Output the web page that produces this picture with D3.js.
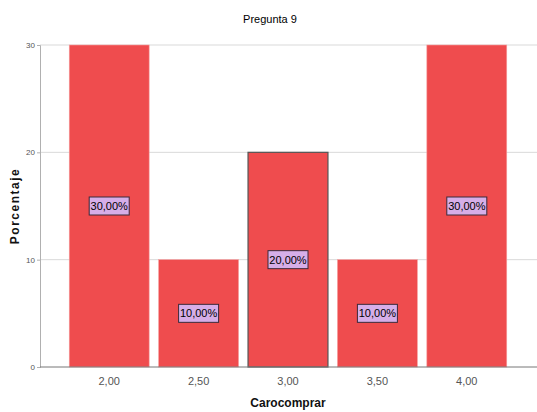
<!DOCTYPE html>
<html>
<head>
<meta charset="utf-8">
<script src="https://cdn.jsdelivr.net/npm/d3@7"></script>
<style>
  body { margin: 0; background: #fff; }
  svg { display: block; font-family: "Liberation Sans", Arial, sans-serif; }
</style>
</head>
<body>
<script>
// Data
const categories = ["2,00", "2,50", "3,00", "3,50", "4,00"];
const values = [30, 10, 20, 10, 30];
const labels = ["30,00%", "10,00%", "20,00%", "10,00%", "30,00%"];
const yTicks = [0, 10, 20, 30];

const width = 537;
const height = 412;
const margin = { top: 45, right: 1, bottom: 45, left: 40 };

const svg = d3.select("body")
    .append("svg")
    .attr("width", width)
    .attr("height", height);

const x = d3.scaleBand()
    .domain(categories)
    .range([margin.left, width - margin.right])
    .paddingInner(0.106)
    .paddingOuter(0.327);

const y = d3.scaleLinear()
    .domain([0, 30])
    .range([height - margin.bottom, margin.top]);

// Gridlines
svg.append("g")
    .selectAll("line")
    .data(yTicks.filter(d => d > 0))
    .enter()
    .append("line")
    .attr("x1", margin.left)
    .attr("x2", width)
    .attr("y1", d => y(d))
    .attr("y2", d => y(d))
    .attr("stroke", "#d9d9d9")
    .attr("stroke-width", 1);

// Bars
svg.append("g")
    .selectAll("rect")
    .data(values)
    .enter()
    .append("rect")
    .attr("x", (d, i) => x(categories[i]))
    .attr("y", d => y(d))
    .attr("width", x.bandwidth())
    .attr("height", d => y(0) - y(d))
    .attr("fill", "#ef4c4e")
    .attr("stroke", (d, i) => i === 2 ? "#555" : "#f5a0a0")
    .attr("stroke-width", (d, i) => i === 2 ? 1.2 : 0.6);

// Y axis
const yAxis = svg.append("g")
    .attr("transform", `translate(${margin.left},0)`)
    .call(d3.axisLeft(y).tickValues(yTicks).tickSize(3).tickPadding(2));
yAxis.select(".domain").attr("stroke", "#b0b0b0");
yAxis.selectAll(".tick line").attr("stroke", "#b0b0b0");
yAxis.selectAll(".tick text")
    .attr("fill", "#555")
    .style("font-size", "8px");

// X axis baseline
svg.append("line")
    .attr("x1", margin.left)
    .attr("x2", width)
    .attr("y1", y(0))
    .attr("y2", y(0))
    .attr("stroke", "#777")
    .attr("stroke-width", 1);

// X tick labels
svg.append("g")
    .selectAll("text")
    .data(categories)
    .enter()
    .append("text")
    .attr("x", d => x(d) + x.bandwidth() / 2)
    .attr("y", y(0) + 18)
    .attr("text-anchor", "middle")
    .attr("fill", "#555")
    .style("font-size", "11px")
    .text(d => d);

// Value labels
const lab = svg.append("g")
    .selectAll("g")
    .data(values)
    .enter()
    .append("g")
    .attr("transform", (d, i) => `translate(${x(categories[i]) + x.bandwidth() / 2},${(y(d) + y(0)) / 2})`);

lab.append("rect")
    .attr("x", -20)
    .attr("y", -9)
    .attr("width", 40)
    .attr("height", 18)
    .attr("fill", "#d6aee8")
    .attr("stroke", "#3a2a3a")
    .attr("stroke-width", 1);

lab.append("text")
    .attr("text-anchor", "middle")
    .attr("dy", "0.36em")
    .attr("fill", "#000")
    .style("font-size", "11px")
    .text((d, i) => labels[i]);

// Title
svg.append("text")
    .attr("x", 270)
    .attr("y", 23)
    .attr("text-anchor", "middle")
    .attr("fill", "#000")
    .style("font-size", "11px")
    .text("Pregunta 9");

// Axis titles
svg.append("text")
    .attr("transform", `translate(19,${(y(0) + y(30)) / 2}) rotate(-90)`)
    .attr("text-anchor", "middle")
    .attr("fill", "#111")
    .style("font-size", "12px")
    .style("font-weight", "bold")
    .style("letter-spacing", "1.5px")
    .text("Porcentaje");

svg.append("text")
    .attr("x", 288)
    .attr("y", 407)
    .attr("text-anchor", "middle")
    .attr("fill", "#111")
    .style("font-size", "12px")
    .style("font-weight", "bold")
    .text("Carocomprar");
</script>
</body>
</html>
